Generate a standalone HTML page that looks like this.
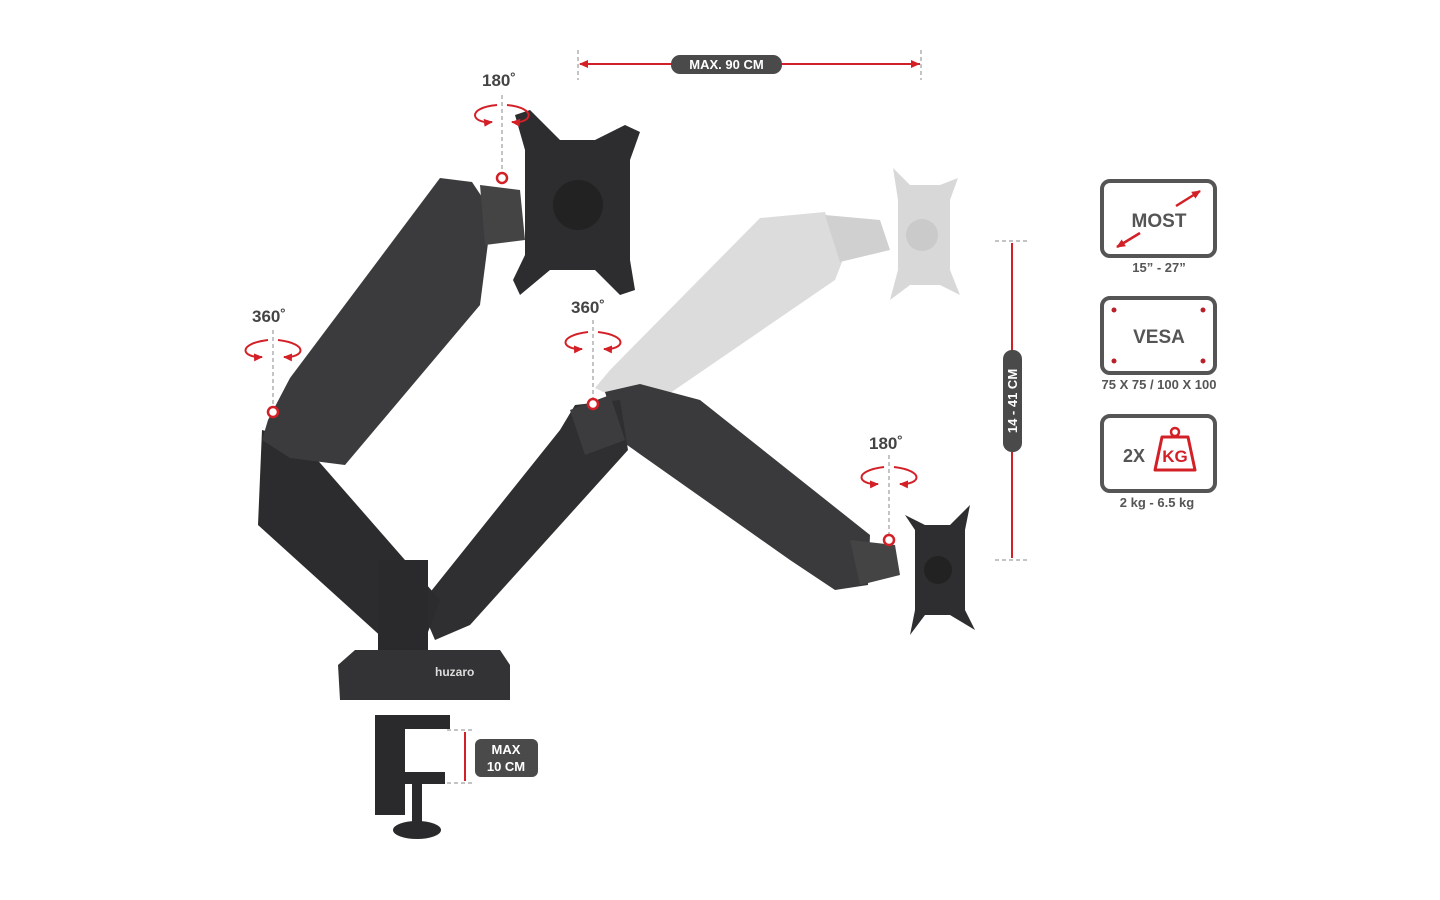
<!DOCTYPE html>
<html><head><meta charset="utf-8"><style>
html,body{margin:0;padding:0;background:#fff;}
svg{display:block}
text{font-family:"Liberation Sans",sans-serif;font-weight:bold}
</style></head><body>
<svg width="1440" height="900" viewBox="0 0 1440 900" xmlns="http://www.w3.org/2000/svg">
<defs>
<marker id="ar" markerUnits="userSpaceOnUse" markerWidth="9" markerHeight="8" refX="8" refY="4" orient="auto"><path d="M0,0 L9,4 L0,8 z" fill="#d32027"/></marker>
</defs>
<rect width="1440" height="900" fill="#fff"/>

<!-- ghost arm -->
<polygon points="595,388 610,370 760,218 825,212 842,262 835,280 660,400 630,405" fill="#dcdcdc"/>
<polygon points="825,215 880,220 890,250 840,262" fill="#d0d0d0"/>
<polygon points="893,168 910,185 940,185 958,178 950,200 950,270 960,295 940,285 910,285 890,300 898,270 898,200" fill="#d8d8d8"/>
<circle cx="922" cy="235" r="16" fill="#cacaca"/>

<!-- right forearm -->
<polygon points="605,392 640,384 700,400 870,535 868,585 835,590 790,560 620,440" fill="#3a3a3c"/>
<polygon points="850,540 895,545 900,575 860,585" fill="#444"/>
<polygon points="905,515 925,525 950,525 970,505 965,530 965,610 975,630 950,615 925,615 910,635 915,610 915,530" fill="#2e2e30"/>
<circle cx="938" cy="570" r="14" fill="#222"/>

<!-- right lower arm -->
<polygon points="420,605 560,430 575,405 620,400 628,450 470,625 435,640" fill="#2f2f31"/>
<polygon points="570,410 610,395 625,440 585,455" fill="#3c3c3e"/>

<!-- left lower arm -->
<polygon points="262,430 300,440 440,600 425,640 385,640 258,525" fill="#2c2c2e"/>
<rect x="378" y="560" width="50" height="95" fill="#2a2a2c"/>

<!-- left upper arm -->
<polygon points="268,420 290,378 440,178 472,182 492,212 480,305 345,465 290,458 262,440" fill="#3b3b3d"/>
<polygon points="480,185 520,190 525,240 485,245" fill="#444"/>
<!-- left plate -->
<polygon points="515,115 530,110 560,140 595,140 625,125 640,132 630,160 630,260 635,290 620,295 595,270 550,270 520,295 513,280 525,255 525,150" fill="#2d2d2f"/>
<circle cx="578" cy="205" r="25" fill="#222"/>

<!-- base & clamp -->
<polygon points="338,665 355,650 500,650 510,665 510,700 340,700" fill="#333335"/>
<rect x="375" y="715" width="30" height="100" fill="#2a2a2c"/>
<rect x="375" y="715" width="75" height="14" fill="#2a2a2c"/>
<rect x="375" y="772" width="70" height="12" fill="#2a2a2c"/>
<rect x="412" y="784" width="10" height="38" fill="#2a2a2c"/>
<ellipse cx="417" cy="830" rx="24" ry="9" fill="#2a2a2c"/>
<text x="435" y="676" font-size="12" fill="#ddd">huzaro</text>

<!-- annotations -->
<g stroke="#888" stroke-dasharray="4,3" stroke-width="1" fill="none">
<line x1="502" y1="95" x2="502" y2="178"/>
<line x1="273" y1="330" x2="273" y2="410"/>
<line x1="593" y1="320" x2="593" y2="402"/>
<line x1="889" y1="455" x2="889" y2="540"/>
<line x1="578" y1="50" x2="578" y2="80"/><line x1="921" y1="50" x2="921" y2="80"/>
<line x1="995" y1="241" x2="1028" y2="241"/><line x1="995" y1="560" x2="1028" y2="560"/>
<line x1="447" y1="730" x2="475" y2="730"/><line x1="447" y1="783" x2="475" y2="783"/>
</g>
<g stroke="#d32027" stroke-width="2" fill="none">
<path d="M497,105 C465,108 472,124 492,122" marker-end="url(#ar)"/>
<path d="M507,105 C538,108 532,124 512,122" marker-end="url(#ar)"/>
<path d="M268,340 C236,344 242,358 262,357" marker-end="url(#ar)"/>
<path d="M278,340 C310,344 304,358 284,357" marker-end="url(#ar)"/>
<path d="M588,332 C556,336 562,350 582,349" marker-end="url(#ar)"/>
<path d="M598,332 C630,336 624,350 604,349" marker-end="url(#ar)"/>
<path d="M884,467 C852,471 858,485 878,484" marker-end="url(#ar)"/>
<path d="M894,467 C926,471 920,485 900,484" marker-end="url(#ar)"/>
<line x1="600" y1="64" x2="580" y2="64" marker-end="url(#ar)"/>
<line x1="900" y1="64" x2="919" y2="64" marker-end="url(#ar)"/>
<line x1="580" y1="64" x2="920" y2="64"/>
<line x1="1012" y1="243" x2="1012" y2="558"/>
<line x1="465" y1="732" x2="465" y2="781"/>
</g>
<g fill="#fff" stroke="#d32027" stroke-width="2.5">
<circle cx="502" cy="178" r="5"/><circle cx="273" cy="412" r="5"/><circle cx="593" cy="404" r="5"/><circle cx="889" cy="540" r="5"/>
</g>
<g font-size="17" fill="#444"><text x="482" y="86">180˚</text><text x="252" y="322">360˚</text><text x="571" y="313">360˚</text><text x="869" y="449">180˚</text></g>

<rect x="671" y="55" width="111" height="19" rx="9" fill="#4a4a4a"/>
<text x="726.5" y="69" font-size="13" fill="#fff" text-anchor="middle">MAX. 90 CM</text>
<rect x="1003" y="350" width="19" height="102" rx="9" fill="#4a4a4a"/>
<text transform="translate(1017,401) rotate(-90)" font-size="13" fill="#fff" text-anchor="middle">14 - 41 CM</text>
<rect x="475" y="739" width="63" height="38" rx="6" fill="#4a4a4a"/>
<text x="506" y="754" font-size="13" fill="#fff" text-anchor="middle">MAX</text>
<text x="506" y="771" font-size="13" fill="#fff" text-anchor="middle">10 CM</text>

<!-- right icons -->
<g fill="none" stroke="#555" stroke-width="4">
<rect x="1102" y="181" width="113" height="75" rx="8"/>
<rect x="1102" y="298" width="113" height="75" rx="8"/>
<rect x="1102" y="416" width="113" height="75" rx="8"/>
</g>
<text x="1159" y="227" font-size="19" fill="#555" text-anchor="middle">MOST</text>
<g stroke="#d32027" stroke-width="2.5"><line x1="1176" y1="206" x2="1200" y2="191" marker-end="url(#ar)"/><line x1="1140" y1="233" x2="1117" y2="247" marker-end="url(#ar)"/></g>
<text x="1159" y="272" font-size="13" fill="#555" text-anchor="middle">15” - 27”</text>
<text x="1159" y="343" font-size="19" fill="#555" text-anchor="middle">VESA</text>
<g fill="#b8202a"><circle cx="1114" cy="310" r="2.5"/><circle cx="1203" cy="310" r="2.5"/><circle cx="1114" cy="361" r="2.5"/><circle cx="1203" cy="361" r="2.5"/></g>
<text x="1159" y="389" font-size="13" fill="#555" text-anchor="middle">75 X 75 / 100 X 100</text>
<text x="1134" y="462" font-size="18" fill="#555" text-anchor="middle">2X</text>
<path d="M1162,437 L1188,437 L1195,470 L1155,470 Z" fill="none" stroke="#d32027" stroke-width="3" stroke-linejoin="round"/>
<circle cx="1175" cy="432" r="4" fill="none" stroke="#d32027" stroke-width="2.5"/>
<text x="1175" y="462" font-size="17" fill="#d32027" text-anchor="middle">KG</text>
<text x="1157" y="507" font-size="13" fill="#555" text-anchor="middle">2 kg - 6.5 kg</text>
</svg>
</body></html>
